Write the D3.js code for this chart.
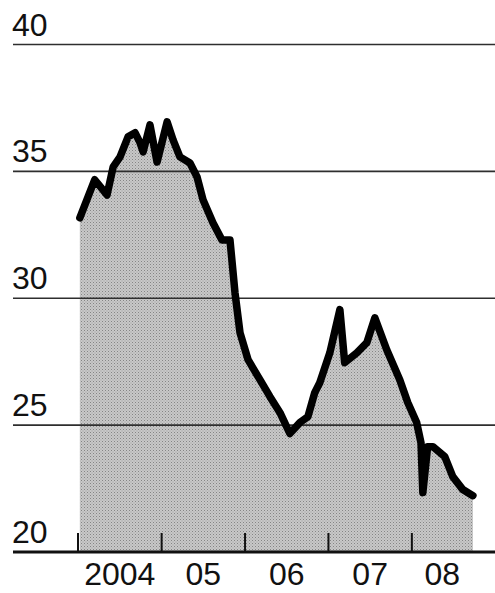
<!DOCTYPE html>
<html>
<head>
<meta charset="utf-8">
<script src="https://cdn.jsdelivr.net/npm/d3@7/dist/d3.min.js"></script>
<style>
  html, body { margin: 0; padding: 0; background: #fff; }
  svg { display: block; }
  text { font-family: "Liberation Sans", Arial, sans-serif; fill: #111; }
</style>
</head>
<body>
<svg id="chart" width="495" height="593"></svg>
<script>
// Series: observation dates and values
const dates = [
  "2004-01-09","2004-03-14","2004-05-07","2004-06-03","2004-07-03","2004-08-07",
  "2004-09-07","2004-09-29","2004-10-12","2004-11-11","2004-12-12","2005-01-25",
  "2005-02-20","2005-03-22","2005-05-05","2005-06-05","2005-07-01","2005-08-14",
  "2005-09-22","2005-10-27","2005-11-18","2005-12-10","2006-01-14","2006-03-07",
  "2006-04-20","2006-06-03","2006-07-16","2006-08-29","2006-10-03","2006-11-02",
  "2006-11-24","2007-01-07","2007-02-20","2007-03-13","2007-05-05","2007-06-18",
  "2007-07-23","2007-09-13","2007-11-09","2007-12-14","2008-01-22","2008-02-10",
  "2008-02-18","2008-03-10","2008-04-02","2008-05-24","2008-06-28","2008-08-11",
  "2008-09-24"
];
const values = [
  33.17, 34.67, 34.07, 35.18, 35.57, 36.36,
  36.52, 36.12, 35.77, 36.83, 35.37, 36.95,
  36.24, 35.57, 35.33, 34.78, 33.88, 32.97,
  32.30, 32.30, 30.22, 28.64, 27.58, 26.79,
  26.12, 25.49, 24.67, 25.10, 25.33, 26.28,
  26.67, 27.85, 29.55, 27.46, 27.85, 28.25,
  29.23, 27.97, 26.79, 25.89, 25.10, 24.30,
  22.34, 24.15, 24.15, 23.76, 22.97, 22.46,
  22.22
];

// Axis ticks and labels
const yTicks = [20, 25, 30, 35, 40];
const yearStarts = ["2004-01-01","2005-01-01","2006-01-01","2007-01-01","2008-01-01"];
const yearLabels = ["2004","05","06","07","08"];

const parse = d3.timeParse("%Y-%m-%d");
const data = dates.map((d, i) => ({ date: parse(d), value: values[i] }));

const svg = d3.select("#chart");

const x = d3.scaleTime()
  .domain([parse("2004-01-01"), parse("2009-01-01")])
  .range([78, 495.5]);
const y = d3.scaleLinear().domain([20, 40]).range([552, 44.5]);

// Halftone-like fill for the area
const defs = svg.append("defs");
const pat = defs.append("pattern")
  .attr("id", "dots").attr("patternUnits", "userSpaceOnUse")
  .attr("width", 3).attr("height", 3);
pat.append("rect").attr("width", 3).attr("height", 3).attr("fill", "#c8c8c8");
pat.append("rect").attr("x", 0).attr("y", 0).attr("width", 1).attr("height", 1).attr("fill", "#858585");
pat.append("rect").attr("x", 1.5).attr("y", 1.5).attr("width", 1).attr("height", 1).attr("fill", "#9c9c9c");

const area = d3.area()
  .x(d => x(d.date))
  .y0(y(20))
  .y1(d => y(d.value));

svg.append("path")
  .datum(data)
  .attr("d", area)
  .attr("fill", "url(#dots)");

// Horizontal gridlines (above the fill)
svg.append("g")
  .selectAll("line")
  .data(yTicks.filter(v => v > 20))
  .join("line")
  .attr("x1", 13).attr("x2", 495)
  .attr("y1", d => y(d)).attr("y2", d => y(d))
  .attr("stroke", "#2e2e2e")
  .attr("stroke-width", 1.6);

// Y labels sitting above their gridlines
svg.append("g")
  .selectAll("text")
  .data(yTicks)
  .join("text")
  .attr("x", 12)
  .attr("y", d => y(d) - 9)
  .attr("font-size", 32)
  .text(d => d);

// Baseline axis with year ticks
svg.append("line")
  .attr("x1", 13).attr("x2", 495)
  .attr("y1", y(20)).attr("y2", y(20))
  .attr("stroke", "#111")
  .attr("stroke-width", 3);

svg.append("g")
  .selectAll("line")
  .data(yearStarts.map(parse))
  .join("line")
  .attr("x1", d => x(d)).attr("x2", d => x(d))
  .attr("y1", y(20) - 19).attr("y2", y(20))
  .attr("stroke", "#111")
  .attr("stroke-width", 2);

// Year labels centred on the span of each year's data
const lastDate = data[data.length - 1].date;
const labelPos = yearStarts.map((s, i) => {
  const a = parse(s);
  const b = d3.min([d3.timeYear.offset(a, 1), lastDate]);
  return (x(a) + x(b)) / 2;
});
svg.append("g")
  .selectAll("text")
  .data(yearLabels)
  .join("text")
  .attr("x", (d, i) => labelPos[i])
  .attr("y", 585)
  .attr("text-anchor", "middle")
  .attr("font-size", 32)
  .text(d => d);

// The series line
const line = d3.line()
  .x(d => x(d.date))
  .y(d => y(d.value));

svg.append("path")
  .datum(data)
  .attr("d", line)
  .attr("fill", "none")
  .attr("stroke", "#000")
  .attr("stroke-width", 7.5)
  .attr("stroke-linejoin", "round")
  .attr("stroke-linecap", "round");
</script>
</body>
</html>
